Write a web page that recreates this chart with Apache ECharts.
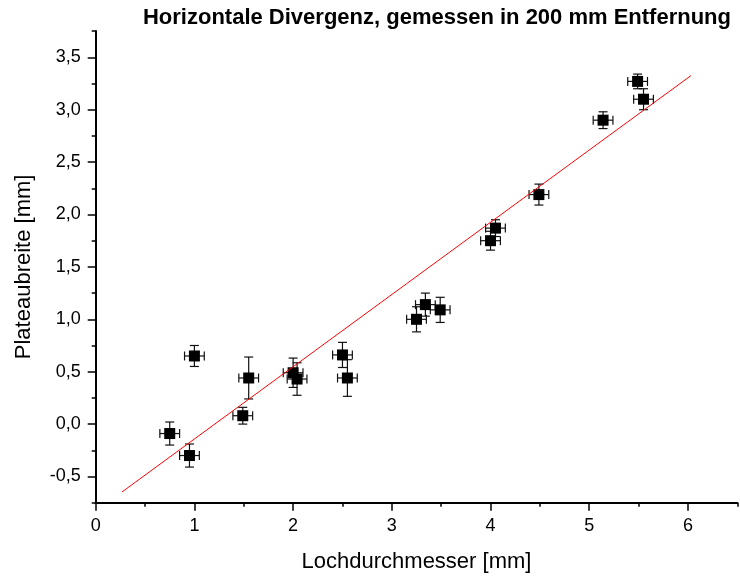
<!DOCTYPE html>
<html>
<head>
<meta charset="utf-8">
<script src="https://cdn.jsdelivr.net/npm/echarts@6/dist/echarts.min.js"></script>
<style>
  html, body { margin: 0; padding: 0; background: #fff; }
  #chart { width: 740px; height: 579px; }
</style>
</head>
<body>
<div id="chart"></div>
<script>
const lochDurchmesser = [0.75, 0.95, 1.0, 1.49, 1.55, 2.0, 2.04, 2.5, 2.55, 3.25, 3.34, 3.49, 4.0, 4.05, 4.49, 5.14, 5.49, 5.55]
const plateauBreite = [-0.09, -0.30, 0.65, 0.08, 0.44, 0.49, 0.43, 0.66, 0.44, 1.0, 1.14, 1.09, 1.75, 1.87, 2.19, 2.90, 3.27, 3.10]
const xFehler = [0.1, 0.1, 0.1, 0.1, 0.1, 0.1, 0.1, 0.1, 0.1, 0.1, 0.1, 0.1, 0.1, 0.1, 0.1, 0.1, 0.1, 0.1]
const yFehler = [0.11, 0.11, 0.10, 0.08, 0.20, 0.14, 0.155, 0.12, 0.175, 0.12, 0.11, 0.12, 0.09, 0.08, 0.10, 0.08, 0.07, 0.10]

// lineare Anpassung (Endpunkte der roten Geraden)
const fitLinie = [[0.266, -0.648], [6.03, 3.325]]

// Achsenbeschriftungen
const xTickLabels = [0, 1, 2, 3, 4, 5, 6]
const yTickLabels = [-0.5, 0, 0.5, 1, 1.5, 2, 2.5, 3, 3.5]

const FONT = '"Liberation Sans", Arial, sans-serif'
const chart = echarts.init(document.getElementById('chart'))

const points = lochDurchmesser.map((x, i) => [x, plateauBreite[i]])
const errData = lochDurchmesser.map((x, i) => [x, plateauBreite[i], xFehler[i], yFehler[i]])

const CAP = 4.5
const errStyle = { stroke: '#111', lineWidth: 1.2 }

function renderErr(params, api) {
  const x = api.value(0), y = api.value(1), ex = api.value(2), ey = api.value(3)
  const c = api.coord([x, y])
  const top = api.coord([x, y + ey])
  const bot = api.coord([x, y - ey])
  const lft = api.coord([x - ex, y])
  const rgt = api.coord([x + ex, y])
  const ln = (x1, y1, x2, y2) => ({ type: 'line', shape: { x1, y1, x2, y2 }, style: errStyle })
  return {
    type: 'group',
    children: [
      ln(c[0], top[1], c[0], bot[1]),
      ln(c[0] - CAP, top[1], c[0] + CAP, top[1]),
      ln(c[0] - CAP, bot[1], c[0] + CAP, bot[1]),
      ln(lft[0], c[1], rgt[0], c[1]),
      ln(lft[0], c[1] - CAP, lft[0], c[1] + CAP),
      ln(rgt[0], c[1] - CAP, rgt[0], c[1] + CAP),
    ],
  }
}

const fmt = (v) => v.toFixed(1).replace('.', ',')

chart.setOption({
  animation: false,
  title: {
    text: 'Horizontale Divergenz, gemessen in 200 mm Entfernung',
    right: 4,
    top: 2,
    textStyle: { fontFamily: FONT, fontSize: 22, fontWeight: 'bold', color: '#000' },
  },
  grid: { left: 95.7, right: 2.7, top: 31.1, bottom: 76.3 },
  xAxis: [
    {
      type: 'value',
      min: 0,
      max: 6.5,
      interval: 0.5,
      name: 'Lochdurchmesser [mm]',
      nameLocation: 'middle',
      nameGap: 48,
      nameTextStyle: { fontFamily: FONT, fontSize: 22, color: '#000' },
      axisLine: { onZero: false, lineStyle: { color: '#000', width: 2 } },
      axisTick: { length: 4, lineStyle: { color: '#000', width: 1.5 } },
      axisLabel: {
        customValues: xTickLabels,
        formatter: (v) => String(v),
        fontFamily: FONT, fontSize: 18, color: '#000', margin: 14,
      },
      splitLine: { show: false },
    },
    {
      type: 'value',
      min: 0,
      max: 6.5,
      position: 'bottom',
      axisLine: { show: false, onZero: false },
      axisTick: { customValues: xTickLabels, length: 8, lineStyle: { color: '#000', width: 1.5 } },
      axisLabel: { show: false },
      splitLine: { show: false },
    },
  ],
  yAxis: [
    {
      type: 'value',
      min: -0.75,
      max: 3.75,
      interval: 0.25,
      name: 'Plateaubreite [mm]',
      nameLocation: 'middle',
      nameGap: 61,
      nameTextStyle: { fontFamily: FONT, fontSize: 22, color: '#000' },
      axisLine: { show: true, onZero: false, lineStyle: { color: '#000', width: 2 } },
      axisTick: { show: true, length: 4, lineStyle: { color: '#000', width: 1.5 } },
      axisLabel: {
        customValues: yTickLabels,
        formatter: fmt,
        fontFamily: FONT, fontSize: 18, color: '#000', margin: 15,
      },
      splitLine: { show: false },
    },
    {
      type: 'value',
      min: -0.75,
      max: 3.75,
      position: 'left',
      axisLine: { show: false, onZero: false },
      axisTick: { show: true, customValues: yTickLabels, length: 8, lineStyle: { color: '#000', width: 1.5 } },
      axisLabel: { show: false },
      splitLine: { show: false },
    },
  ],
  series: [
    {
      type: 'custom',
      renderItem: renderErr,
      data: errData,
      encode: { x: 0, y: 1 },
      z: 2,
      silent: true,
    },
    {
      type: 'scatter',
      data: points,
      symbol: 'rect',
      symbolSize: 11,
      itemStyle: { color: '#000', opacity: 1 },
      z: 3,
    },
    {
      type: 'line',
      data: fitLinie,
      showSymbol: false,
      lineStyle: { color: '#ff0000', width: 1 },
      z: 4,
      silent: true,
    },
  ],
})
</script>
</body>
</html>
